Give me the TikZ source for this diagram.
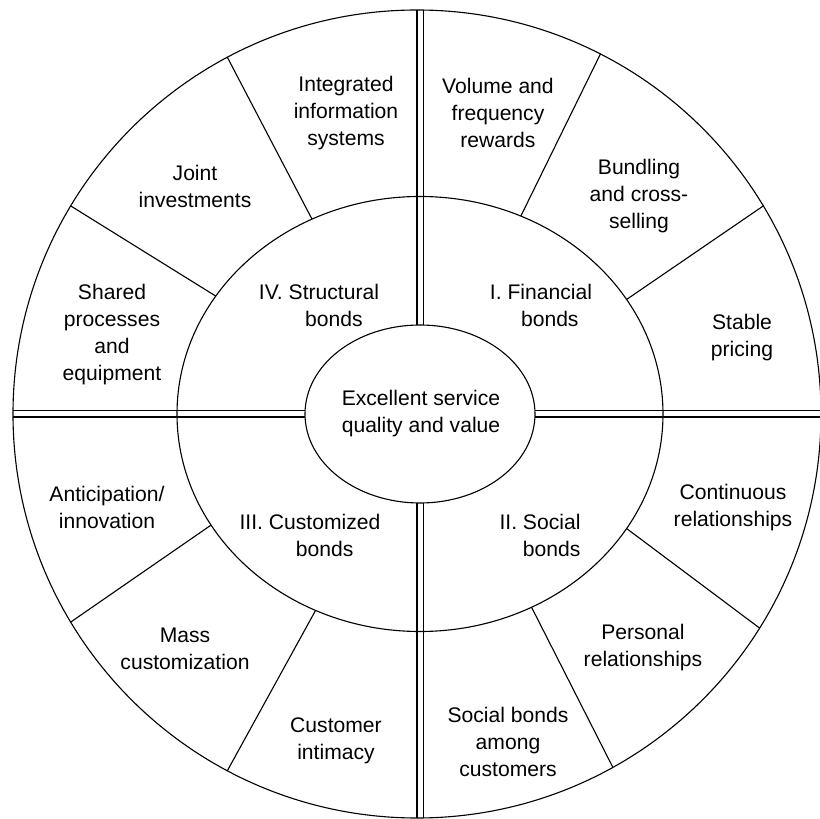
\documentclass[tikz,border=0pt]{standalone}
\usepackage{fontspec}
\setmainfont{Liberation Sans}
\usepackage{tikz}
\usetikzlibrary{shapes.geometric,backgrounds}

\begin{document}
\begin{tikzpicture}[
  x=0.45pt, y=0.45pt,
  font=\fontsize{9.5}{12.15}\selectfont,
  rimshape/.style={draw, circle, line width=0.5pt, inner sep=0pt, outer sep=0pt},
  ringshape/.style={draw, ellipse, line width=0.5pt, inner sep=0pt, outer sep=0pt},
  lbl/.style={align=center, inner sep=0pt},
  divider/.style={line width=0.5pt},
  axis/.style={line width=0.5pt, double, double distance=2.25pt}
]
\useasboundingbox (-420,-405) rectangle (399,414);

% ---- rings ----
\node[rimshape, minimum size=808*0.45pt] (rim) at (-3,0) {};
\node[ringshape, minimum width=486*0.45pt, minimum height=435*0.45pt] (ring) at (0,0) {};
\node[ringshape, minimum width=230*0.45pt, minimum height=178*0.45pt] (core) at (0,0) {};

% ---- quadrant axes ----
\begin{scope}[on background layer]
\draw[axis] (core.north) -- (core.north |- rim.north);
\draw[axis] (core.south) -- (core.south |- rim.south);
\draw[axis] (core.west) -- (core.west -| rim.west);
\draw[axis] (core.east) -- (core.east -| rim.east);
\end{scope}

% ---- sector dividers ----
\foreach \a/\b in {119/118, 150/149, 63/63, 29/31, 208/211, 242/242, 331/328, 300/299}
  \draw[divider] (ring.\a) -- (rim.\b);

% ---- centre ----
\node[lbl] (value) at (1,0) {Excellent service\\quality and value};

% ---- IV. Structural ----
\node[lbl] (struct) at (-101,109) {IV. Structural\\\hphantom{IV. }bonds};
\node[lbl] (integ)  at (-74,301) {Integrated\\information\\systems};
\node[lbl] (joint)  at (-225,228) {Joint\\investments};
\node[lbl] (shared) at (-308,79) {Shared\\processes\\and\\equipment};

% ---- I. Financial ----
\node[lbl] (fin)    at (121,109) {I. Financial\\\hphantom{I. }bonds};
\node[lbl] (volume) at (78,301) {Volume and\\frequency\\rewards};
\node[lbl] (bundle) at (219,218) {Bundling\\and cross-\\selling};
\node[lbl] (stable) at (322,76) {Stable\\pricing};

% ---- III. Customized ----
\node[lbl] (custom) at (-110,-121) {III. Customized\\\hphantom{III. }bonds};
\node[lbl] (antic)  at (-313,-93) {Anticipation/\\innovation};
\node[lbl] (mass)   at (-235,-235) {Mass\\customization};
\node[lbl] (intim)  at (-84,-327) {Customer\\intimacy};

% ---- II. Social ----
\node[lbl] (social) at (120,-121) {II. Social\\\hphantom{II. }bonds};
\node[lbl] (contin) at (313,-94) {Continuous\\relationships};
\node[lbl] (person) at (223,-234) {Personal\\relationships};
\node[lbl] (among)  at (88,-328) {Social bonds\\among\\customers};
\end{tikzpicture}
\end{document}
